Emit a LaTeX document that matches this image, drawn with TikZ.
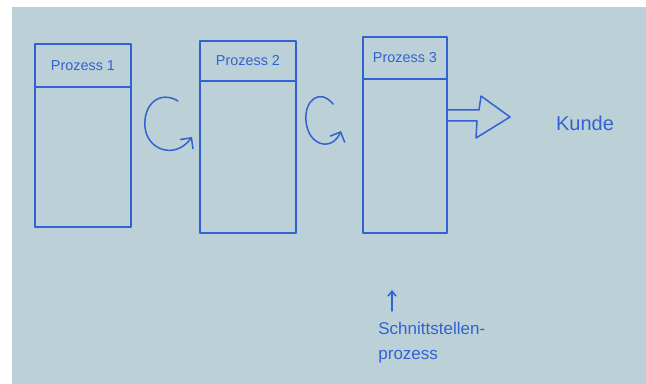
\documentclass[tikz,border=0pt]{standalone}
\usepackage{fontspec}
\setmainfont{Liberation Sans}
\usetikzlibrary{arrows.meta}
\definecolor{board}{RGB}{188,209,215}
\definecolor{ink}{RGB}{50,98,210}
\tikzset{
  ink line/.style={draw=ink, line width=0.75pt, line join=round, line cap=round},
  headbox/.style={ink line, rectangle, inner sep=0pt, outer sep=0pt, anchor=north west, font=\fontsize{7.2}{8}\selectfont, text=ink},
  bodybox/.style={ink line, rectangle, inner sep=0pt, outer sep=0pt, anchor=north west},
  lbl/.style={text=ink, inner sep=0pt},
  turn/.style={ink line, -{Straight Barb[length=4pt,width=8pt]}}
}
\begin{document}
\begin{tikzpicture}[x=0.5pt,y=-0.5pt]
\useasboundingbox (0,0) rectangle (646,384);
\fill[white] (0,0) rectangle (646,384);
\fill[board] (12,7) rectangle (646,384);
% boxes
\node[headbox, minimum width=48pt, minimum height=21.5pt] (h1) at (35,44) {Prozess 1};
\node[bodybox, minimum width=48pt, minimum height=70pt] (b1) at (h1.south west) {};
\node[headbox, minimum width=48pt, minimum height=20pt] (h2) at (200,41) {Prozess 2};
\node[bodybox, minimum width=48pt, minimum height=76pt] (b2) at (h2.south west) {};
\node[headbox, minimum width=42pt, minimum height=21pt] (h3) at (363,37) {Prozess 3};
\node[bodybox, minimum width=42pt, minimum height=77pt] (b3) at (h3.south west) {};
% circular arrows
\draw[turn] (178,101) .. controls (160,90) and (143,104) .. (145,127)
  .. controls (147,150) and (175,160) .. (192,137);
\draw[turn] (333,104) .. controls (320,88) and (304,100) .. (306,121)
  .. controls (308,146) and (332,152) .. (341,131);
% big hollow arrow to Kunde
\node[lbl, font=\fontsize{10}{12}\selectfont] (kunde) at (585,123) {Kunde};
\coordinate (a0) at (b3.east |- 0,110);
\coordinate (a1) at (b3.east |- 0,121);
\draw[ink line] (a0) -- (479,110) -- (481,96) -- (510,117) -- (476,138) -- (477,121) -- (a1);
% label below
\node[lbl, align=left, anchor=north west, font=\fontsize{8.5}{12.5}\selectfont] (sp) at (378,322) {Schnittstellen-\\prozess};
\coordinate (up) at (392,290);
\draw[ink line, -{Straight Barb[length=2.5pt,width=4pt]}] (392,311) -- (up);
\end{tikzpicture}
\end{document}
